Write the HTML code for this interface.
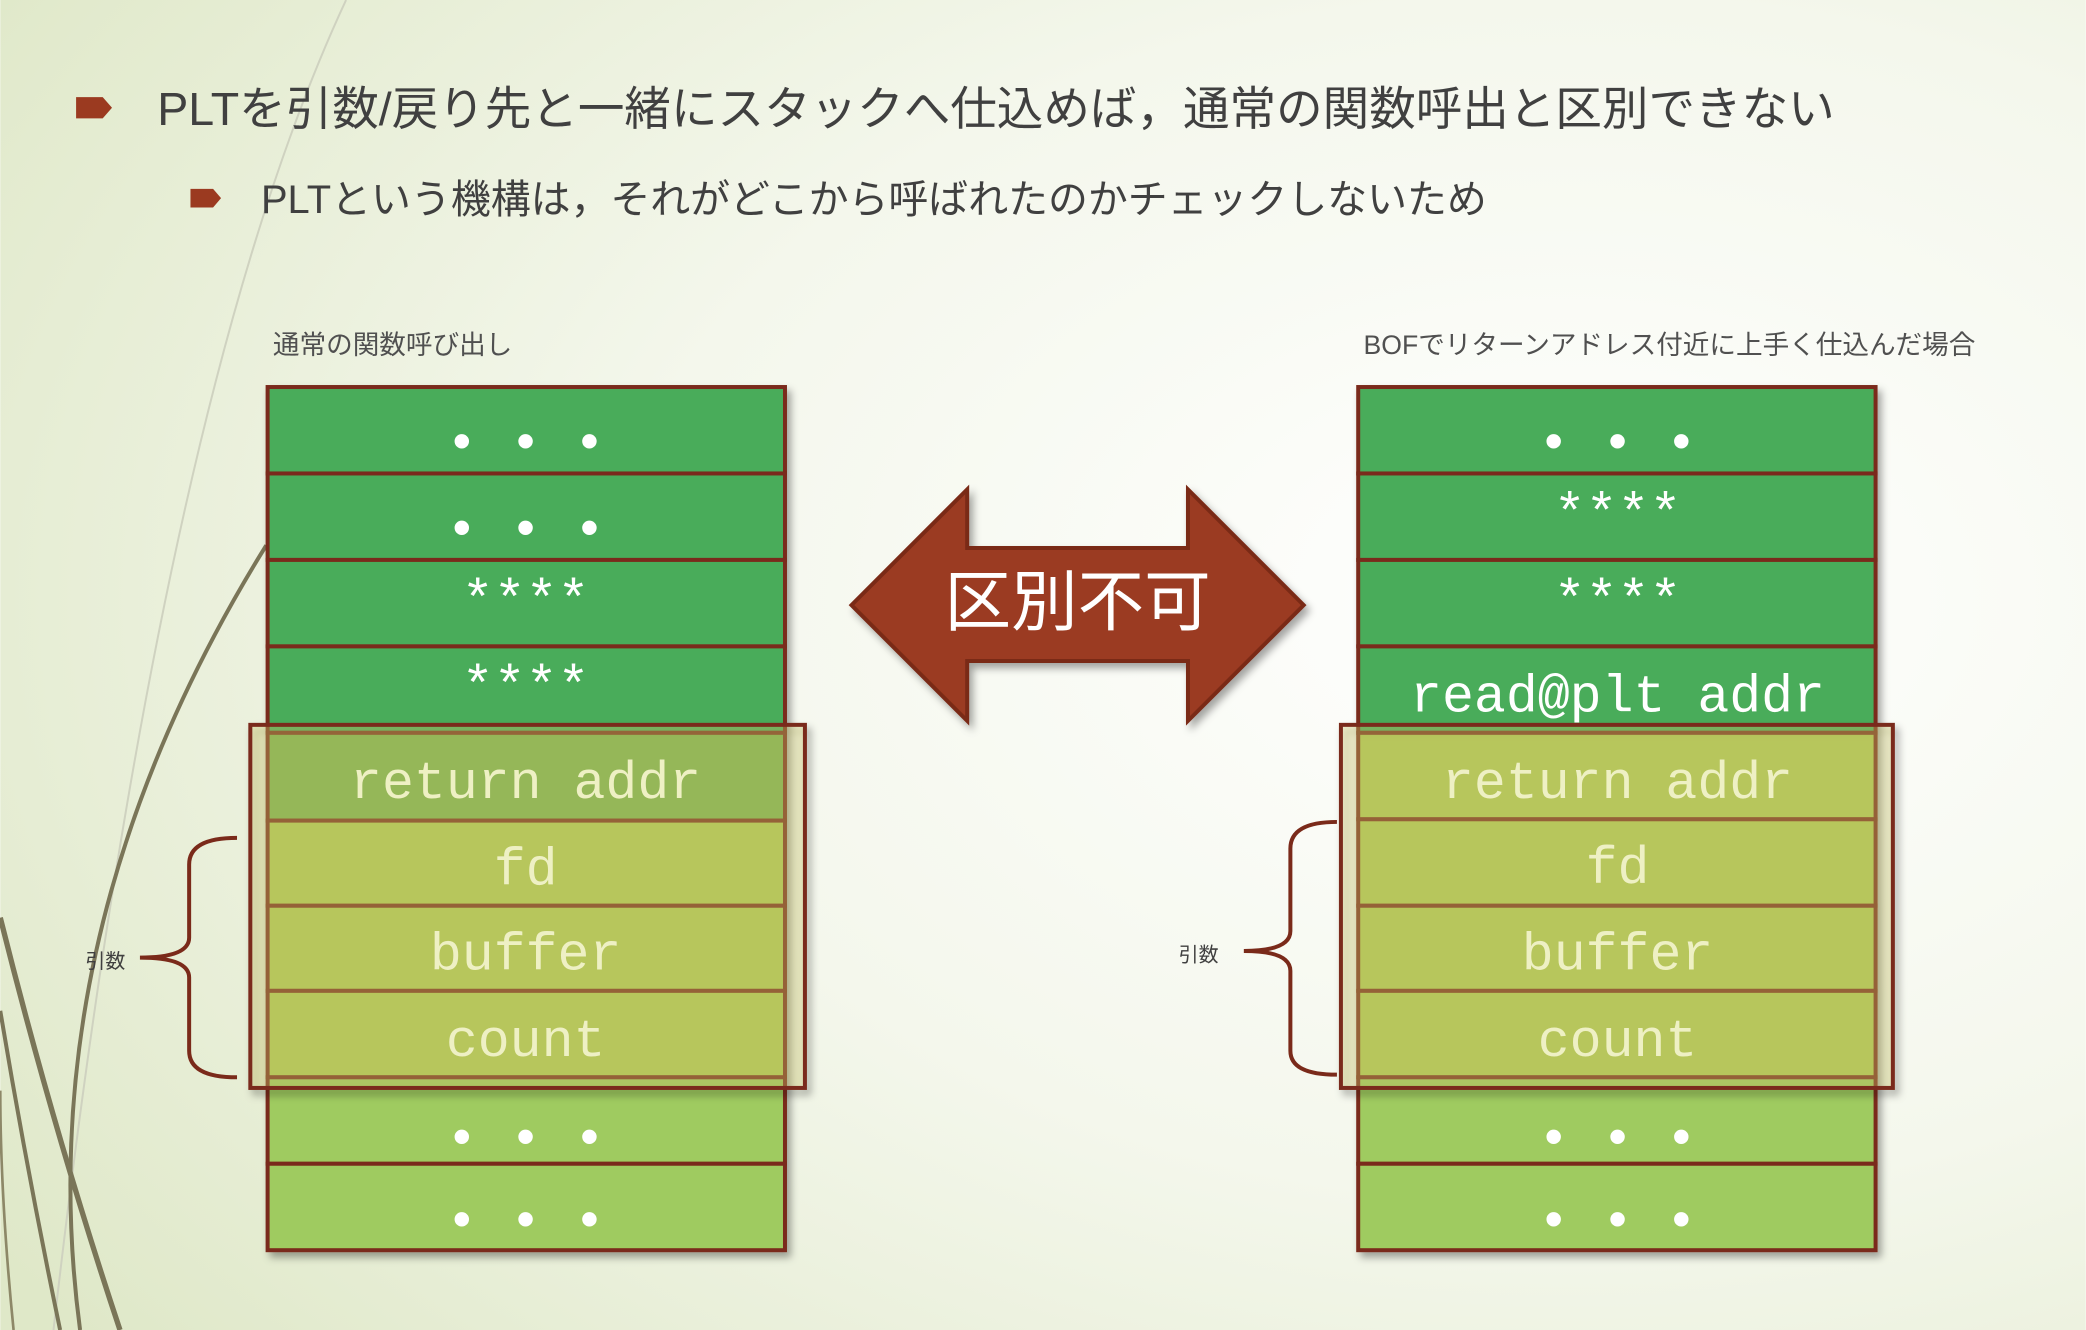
<!DOCTYPE html>
<html><head><meta charset="utf-8"><style>
html,body{margin:0;padding:0;width:2086px;height:1330px;overflow:hidden;background:#fff}
svg{display:block}
text{font-family:"Liberation Sans","Noto Sans CJK JP",sans-serif}
.m{font-family:"Liberation Mono",monospace;font-size:40px;text-anchor:middle}
</style></head><body>
<svg width="2086" height="1330" viewBox="0 0 1568 1000" xmlns="http://www.w3.org/2000/svg">
<defs>
<radialGradient id="bg" cx="0.75" cy="0.45" r="0.9">
<stop offset="0" stop-color="#ffffff"/><stop offset="0.5" stop-color="#f4f7ec"/><stop offset="1" stop-color="#dfe8c8"/>
</radialGradient>
<filter id="sh" x="-10%" y="-10%" width="130%" height="130%"><feDropShadow dx="3" dy="4" stdDeviation="3" flood-opacity="0.35"/></filter>
</defs>
<rect width="1568" height="1000" fill="url(#bg)"/>
<!-- decorative curves -->
<path d="M260 0 Q120 300 40 1000" stroke="#cfd2c0" stroke-width="1.5" fill="none"/>
<path d="M200 410 Q20 700 60 1000" stroke="#7a7558" stroke-width="3" fill="none"/>
<path d="M0 690 Q40 850 90 1000" stroke="#7a7558" stroke-width="4" fill="none"/>
<path d="M0 760 Q20 880 45 1000" stroke="#7a7558" stroke-width="3" fill="none"/>
<path d="M10 1000 Q0 900 0 820" stroke="#8d8868" stroke-width="2" fill="none"/>
<!-- title -->
<path d="M57 73 H77 L84 81 L77 89 H57 Z" fill="#9b3a20"/>
<text x="118" y="94" font-size="35" fill="#404040">PLTを引数/戻り先と一緒にスタックへ仕込めば，通常の関数呼出と区別できない</text>
<path d="M143 142 H160 L166 149 L160 156 H143 Z" fill="#9b3a20"/>
<text x="196" y="160" font-size="30" fill="#404040">PLTという機構は，それがどこから呼ばれたのかチェックしないため</text>
<text x="205" y="266" font-size="20" fill="#505050">通常の関数呼び出し</text>
<text x="1025" y="266" font-size="20" fill="#505050">BOFでリターンアドレス付近に上手く仕込んだ場合</text>

<!-- left stack -->
<g filter="url(#sh)" stroke="#7a2a1a" stroke-width="3">
<rect x="201" y="291" width="389" height="65" fill="#4aac5a"/>
<rect x="201" y="356" width="389" height="65" fill="#4aac5a"/>
<rect x="201" y="421" width="389" height="65" fill="#4aac5a"/>
<rect x="201" y="486" width="389" height="65" fill="#4aac5a"/>
<rect x="201" y="551" width="389" height="66" fill="#7ab450"/>
<rect x="201" y="617" width="389" height="64" fill="#b0cb55"/>
<rect x="201" y="681" width="389" height="64" fill="#b0cb55"/>
<rect x="201" y="745" width="389" height="65" fill="#b0cb55"/>
<rect x="201" y="810" width="389" height="65" fill="#9fcb60"/>
<rect x="201" y="875" width="389" height="65" fill="#9fcb60"/>
</g>
<rect x="188" y="545" width="417" height="273" fill="#d8d070" fill-opacity="0.3" stroke="#7a2a1a" stroke-width="3" filter="url(#sh)"/>
<g class="m" fill="#fff">
<text class="m" x="395" y="345">• • •</text>
<text class="m" x="395" y="410">• • •</text>
<text class="m" x="395" y="463">****</text>
<text class="m" x="395" y="528">****</text>
<text class="m" x="395" y="868" font-size="26">• • •</text>
<text class="m" x="395" y="930" font-size="26">• • •</text>
</g>
<g fill="#eef0c4">
<text class="m" x="395" y="600">return addr</text>
<text class="m" x="395" y="665">fd</text>
<text class="m" x="395" y="729">buffer</text>
<text class="m" x="395" y="794">count</text>
</g>

<!-- right stack -->
<g filter="url(#sh)" stroke="#7a2a1a" stroke-width="3">
<rect x="1021" y="291" width="389" height="65" fill="#4aac5a"/>
<rect x="1021" y="356" width="389" height="65" fill="#4aac5a"/>
<rect x="1021" y="421" width="389" height="65" fill="#4aac5a"/>
<rect x="1021" y="486" width="389" height="65" fill="#4aac5a"/>
<rect x="1021" y="551" width="389" height="65" fill="#b0cb55"/>
<rect x="1021" y="616" width="389" height="65" fill="#b0cb55"/>
<rect x="1021" y="681" width="389" height="64" fill="#b0cb55"/>
<rect x="1021" y="745" width="389" height="65" fill="#b0cb55"/>
<rect x="1021" y="810" width="389" height="65" fill="#9fcb60"/>
<rect x="1021" y="875" width="389" height="65" fill="#9fcb60"/>
</g>
<rect x="1008" y="545" width="415" height="273" fill="#d8d070" fill-opacity="0.3" stroke="#7a2a1a" stroke-width="3" filter="url(#sh)"/>
<g fill="#fff">
<text class="m" x="1216" y="345">• • •</text>
<text class="m" x="1216" y="398">****</text>
<text class="m" x="1216" y="463">****</text>
<text class="m" x="1216" y="535">read@plt addr</text>
<text class="m" x="1216" y="868" font-size="26">• • •</text>
<text class="m" x="1216" y="930" font-size="26">• • •</text>
</g>
<g fill="#eef0c4">
<text class="m" x="1216" y="600">return addr</text>
<text class="m" x="1216" y="664">fd</text>
<text class="m" x="1216" y="729">buffer</text>
<text class="m" x="1216" y="794">count</text>
</g>

<!-- arrow -->
<path d="M640 455 L727 368 V412 H893 V368 L980 455 L893 542 V497 H727 V542 Z" fill="#9b3a20" stroke="#7a2a18" stroke-width="3" filter="url(#sh)"/>
<text x="810" y="470" font-size="50" fill="#fff" text-anchor="middle">区別不可</text>

<!-- braces -->
<path d="M178 630 Q142 630 142 650 V705 Q142 720 105 720 Q142 720 142 735 V790 Q142 810 178 810" stroke="#7a2a1a" stroke-width="3" fill="none"/>
<text x="64" y="728" font-size="15" fill="#404040">引数</text>
<path d="M1005 618 Q970 618 970 638 V700 Q970 715 935 715 Q970 715 970 730 V790 Q970 808 1005 808" stroke="#7a2a1a" stroke-width="3" fill="none"/>
<text x="886" y="723" font-size="15" fill="#404040">引数</text>
</svg>
</body></html>
